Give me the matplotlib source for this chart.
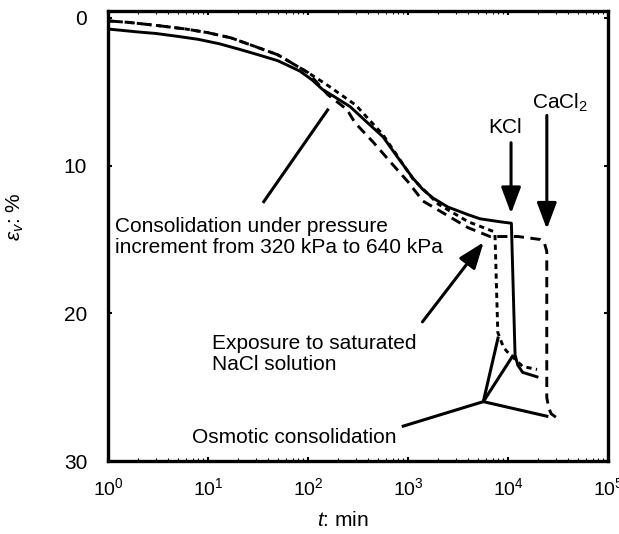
import numpy as np
import matplotlib.pyplot as plt
from matplotlib.ticker import LogLocator, FixedLocator, NullFormatter

plt.rcParams['font.family'] = ['Liberation Sans', 'DejaVu Sans']
plt.rcParams['mathtext.fontset'] = 'custom'
plt.rcParams['mathtext.rm'] = 'Liberation Sans'
plt.rcParams['mathtext.it'] = 'Liberation Sans:italic'

# consolidation, then KCl exposure (solid)
t_kcl = [1, 2, 3, 5, 8, 13, 20, 32, 50, 83, 110, 140, 190, 263, 380, 562, 800, 1120, 1400,
         1780, 2500, 3900, 5250, 8300, 10800, 11750, 12500, 14000, 19500]
e_kcl = [0.75, 0.95, 1.05, 1.25, 1.45, 1.75, 2.1, 2.5, 2.9, 3.6, 4.2, 4.85, 5.4, 6.0, 7.0, 8.05,
         9.5, 10.85, 11.6, 12.2, 12.8, 13.3, 13.6, 13.8, 13.9, 22.8, 23.5, 24.0, 24.3]

# NaCl exposure (short dashes)
t_nacl = [1, 1.6, 3, 6, 10, 17, 30, 50, 100, 160, 300, 560, 1120, 2000, 4000, 7100,
          7400, 7900, 9000, 9800, 14000, 19500]
e_nacl = [0.2, 0.3, 0.5, 0.75, 1.0, 1.35, 1.95, 2.5, 3.7, 4.6, 5.9, 7.9, 10.9, 12.6, 13.8, 14.45,
          14.6, 21.3, 22.3, 22.6, 23.6, 23.8]

# CaCl2 exposure (long dashes)
t_cacl = [1, 1.6, 3, 6, 10, 17, 30, 50, 100, 158, 245, 295, 447, 676, 1000, 1410, 2240, 3980,
          6600, 12600, 20900, 23000, 24400, 24400, 25500, 27000, 31000]
e_cacl = [0.2, 0.3, 0.5, 0.75, 1.0, 1.35, 1.95, 2.5, 3.7, 5.2, 6.2, 7.1, 8.4, 9.8, 11.1, 12.4,
          13.2, 14.2, 14.8, 14.8, 15.0, 15.2, 15.8, 25.7, 26.4, 26.8, 27.1]

y_ticks = [0, 10, 20, 30]

fig = plt.figure(figsize=(6.19, 5.34), dpi=100)
ax = fig.add_axes([0.1745, 0.1367, 0.8078, 0.8427])

ax.plot(t_kcl, e_kcl, color='k', lw=2.1, solid_joinstyle='round')
ax.plot(t_nacl, e_nacl, color='k', lw=2.1, dashes=(1.8, 1.5))
ax.plot(t_cacl, e_cacl, color='k', lw=2.1, dashes=(3.5, 2.2))

ax.set_xscale('log')
ax.set_xlim(1, 1e5)
ax.set_ylim(30, -0.47)
ax.yaxis.set_major_locator(FixedLocator(y_ticks))
ax.xaxis.set_major_locator(LogLocator(base=10, numticks=10))
ax.xaxis.set_minor_locator(LogLocator(base=10, subs=np.arange(2, 10), numticks=10))
ax.xaxis.set_minor_formatter(NullFormatter())

for s in ax.spines.values():
    s.set_linewidth(2.4)
ax.tick_params(which='both', direction='in', top=True, right=True)
ax.tick_params(axis='x', which='major', length=3, width=1.5, labelsize=14, pad=12)
ax.tick_params(axis='x', which='minor', length=2, width=0.8)
ax.tick_params(axis='y', which='major', length=3, width=1.5, labelsize=15, pad=15)

ax.set_xlabel('$t$: min', fontsize=15)
ax.xaxis.set_label_coords(0.47, -0.111)
ax.set_ylabel(r'$\varepsilon_v$: %', fontsize=15)
ax.yaxis.set_label_coords(-0.165, 0.543)

head = dict(arrowstyle='-|>,head_length=0.8,head_width=0.3', color='k', lw=2.2,
            mutation_scale=20, shrinkA=0, shrinkB=0)

# consolidation pointer
ax.plot([36.1, 157], [12.44, 6.23], color='k', lw=2.2)
ax.text(1.17, 14.83, 'Consolidation under pressure\nincrement from 320 kPa to 640 kPa',
        fontsize=15, va='center', ha='left', linespacing=1.15)

# KCl and CaCl2 arrows
ax.annotate('', xy=(10715, 13.24), xytext=(10715, 8.45), arrowprops=head)
ax.text(9330, 7.4, 'KCl', fontsize=15, ha='center', va='center')
ax.annotate('', xy=(24430, 14.29), xytext=(24430, 6.6), arrowprops=head)
ax.text(17260, 5.75, r'CaCl$_2$', fontsize=15, ha='left', va='center')

# NaCl arrow
ax.annotate('', xy=(5700, 15.19), xytext=(1393, 20.58), arrowprops=head)
ax.text(10.9, 22.75, 'Exposure to saturated\nNaCl solution', fontsize=15,
        va='center', ha='left', linespacing=1.15)

# osmotic consolidation pointers
jx, jy = 5660, 25.98
for px, py in [(865, 27.67), (8000, 21.58), (11300, 22.82), (25300, 26.99)]:
    ax.plot([jx, px], [jy, py], color='k', lw=2.2, solid_capstyle='butt')
ax.text(6.92, 28.4, 'Osmotic consolidation', fontsize=15, va='center', ha='left')

fig.savefig('out.png', dpi=100)
